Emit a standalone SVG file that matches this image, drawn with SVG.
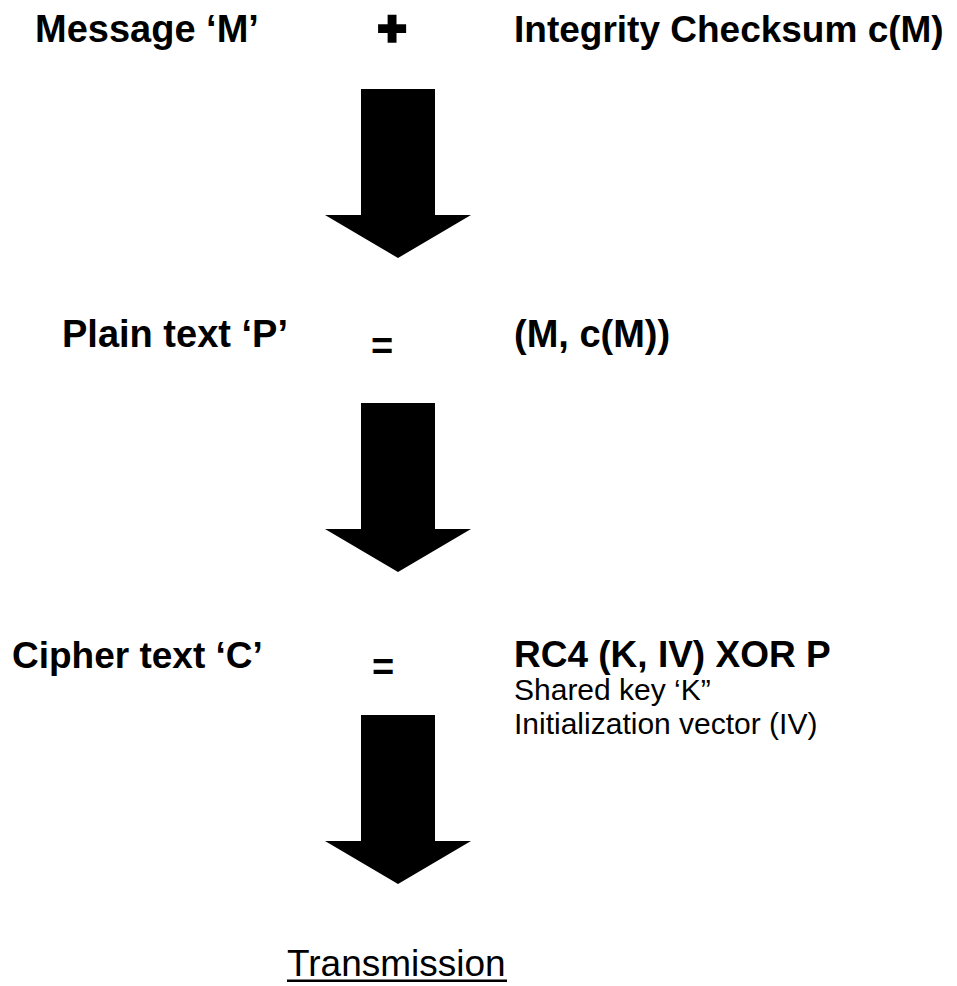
<svg xmlns="http://www.w3.org/2000/svg" width="957" height="986" viewBox="0 0 957 986">
  <style>
    .b { font-family: "Liberation Sans", Arial, sans-serif; font-weight: bold; fill: #000; }
    .r { font-family: "Liberation Sans", Arial, sans-serif; font-weight: normal; fill: #000; }
    .eq { text-anchor: middle; }
    .arrow { fill: #000; }
  </style>
  <defs>
    <!-- block arrow pointing down, origin at top centre of the shaft -->
    <path id="blockArrow" d="M -37 0 H 37 V 126 H 73 L 0 169 L -73 126 H -37 Z"/>
  </defs>
  <rect width="957" height="986" fill="#fff"/>

  <g id="message">
    <text class="b" x="35" y="42" font-size="38">Message ‘M’</text>
  </g>
  <g id="plus">
    <text class="b" x="392" y="45" font-size="49" text-anchor="middle" stroke="#000" stroke-width="3.5">+</text>
  </g>
  <g id="checksum">
    <text class="b" x="514" y="42" font-size="37">Integrity Checksum c(M)</text>
  </g>

  <g id="plaintext">
    <text class="b" x="62" y="347" font-size="38">Plain text ‘P’</text>
    <text class="b eq" x="382" y="359" font-size="38">=</text>
    <text class="b" x="514" y="347" font-size="38">(M, c(M))</text>
  </g>

  <g id="ciphertext">
    <text class="b" x="12" y="668" font-size="37">Cipher text ‘C’</text>
    <text class="b eq" x="383" y="680" font-size="38">=</text>
    <text class="b" x="514" y="667" font-size="37">RC4 (K, IV) XOR P</text>
    <text class="r" x="514" y="700" font-size="30">Shared key ‘K”</text>
    <text class="r" x="514" y="734" font-size="30">Initialization vector (IV)</text>
  </g>

  <g id="transmission">
    <text class="r" x="287" y="976" font-size="37">Transmission</text>
    <rect x="287" y="979.5" width="220" height="2.5" fill="#000"/>
  </g>

  <g id="connectors">
    <use href="#blockArrow" class="arrow" x="398" y="89"/>
    <use href="#blockArrow" class="arrow" x="398" y="403"/>
    <use href="#blockArrow" class="arrow" x="398" y="715"/>
  </g>
</svg>
